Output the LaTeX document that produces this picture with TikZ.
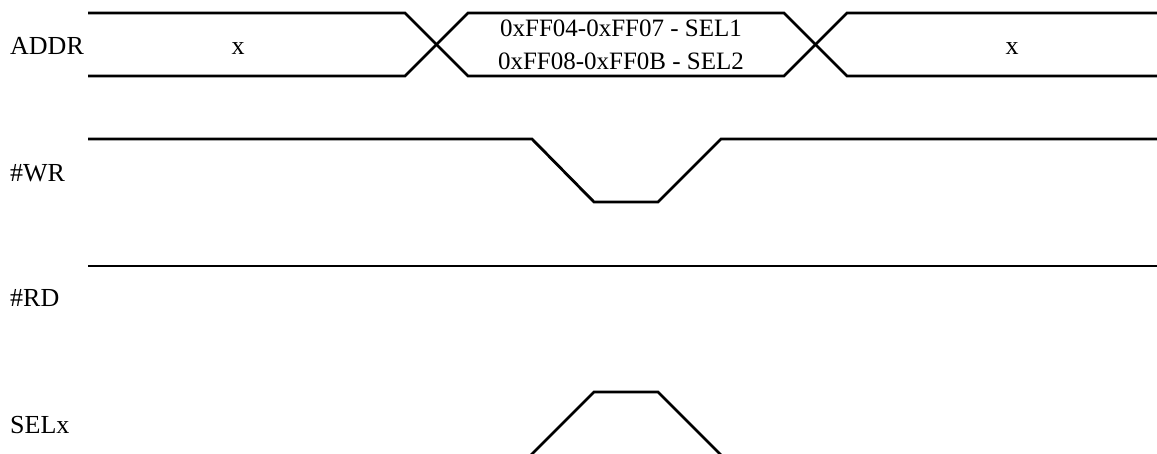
\documentclass[tikz,border=0pt]{standalone}
\usepackage{fontspec}
\setmainfont{Liberation Serif}
\begin{document}
\begin{tikzpicture}[x=1pt,y=-1pt,
    every node/.append style={font=\fontsize{26}{33}\selectfont, inner sep=0pt},
    wave/.style={line width=2.8pt}]
    \useasboundingbox (0,0) rectangle (1157,453);
    \clip (0,0) rectangle (1157,453);
    % signal names
    \node[anchor=base west] (addr) at (10,54) {ADDR};
    \node[anchor=base west] (wr) at (10,181) {\#WR};
    \node[anchor=base west] (rd) at (10,306) {\#RD};
    \node[anchor=base west] (sel) at (10,433) {SELx};
    % address bus
    \draw[wave] (88,13) -- (405,13) -- (468,76) -- (784,76) -- (847,13) -- (1157,13);
    \draw[wave] (88,76) -- (405,76) -- (468,13) -- (784,13) -- (847,76) -- (1157,76);
    \node[anchor=base] (addr x1) at (238,54) {x};
    \node[align=center, font=\fontsize{25}{33}\selectfont] (addr val) at (621,45) {0xFF04-0xFF07 - SEL1\\0xFF08-0xFF0B - SEL2};
    \node[anchor=base] (addr x2) at (1012,54) {x};
    % strobes
    \draw[wave] (88,139) -- (532,139) -- (594,202) -- (658,202) -- (721,139) -- (1157,139);
    \draw[wave] (88,266) -- (1157,266);
    \draw[wave] (88,460) -- (526,460) -- (594,392) -- (658,392) -- (726,460) -- (1157,460);
\end{tikzpicture}
\end{document}
